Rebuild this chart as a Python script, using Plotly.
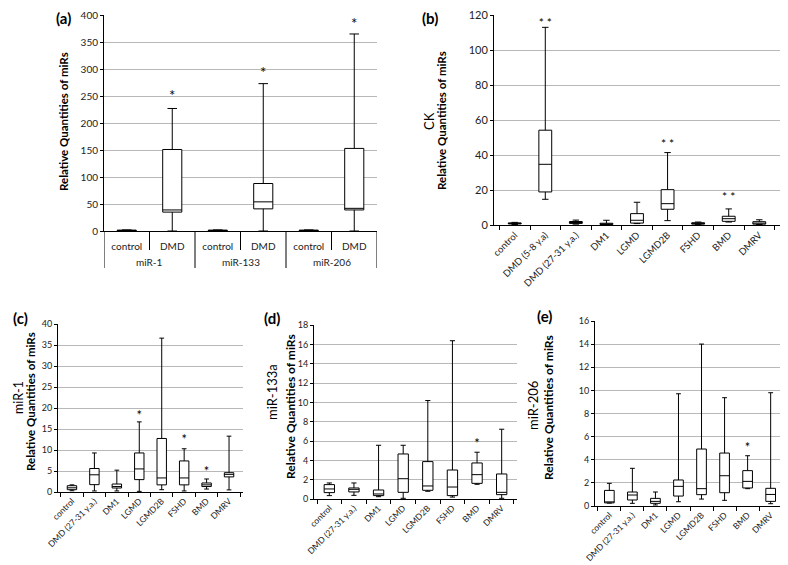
import plotly.graph_objects as go

# page is rendered with an 8px body margin; coordinates below are page pixels
OX, OY = 8, 8
W, H = 780, 557
FONT = "Lato"

# ---------------- data ----------------
# (a)
a_pos = [0, 1, 2, 3, 4, 5]
a_cats = ["control", "DMD", "control", "DMD", "control", "DMD"]
a_groups = ["miR-1", "miR-133", "miR-206"]
a_group_pos = [0.5, 2.5, 4.5]
a_lo = [0.3, 0, 0.3, 0, 0.3, 0]
a_q1 = [0.6, 35, 0.6, 41, 0.6, 39]
a_med = [1.0, 39, 1.0, 54, 1.0, 42]
a_q3 = [1.6, 151, 1.6, 88, 1.6, 153]
a_hi = [2.0, 227, 2.0, 273, 2.0, 365]
a_star_pos = [1, 3, 5]
a_star_y = [248, 290, 382]

# (b) CK
b_cats = ["control", "DMD (5-8 y.a)", "DMD (27-31 y.a.)", "DM1", "LGMD",
          "LGMD2B", "FSHD", "BMD", "DMRV"]
b_lo = [0.3, 14.7, 0.5, 0.0, 0.8, 2.5, 0.2, 1.7, 0.3]
b_q1 = [0.6, 18.9, 0.9, 0.3, 1.1, 9.0, 0.5, 2.1, 0.5]
b_med = [0.9, 34.7, 1.4, 0.6, 2.7, 12.2, 0.9, 3.6, 1.0]
b_q3 = [1.2, 54.2, 2.0, 1.0, 6.5, 20.2, 1.3, 5.0, 1.9]
b_hi = [1.5, 113.0, 2.8, 2.7, 13.0, 41.4, 1.7, 9.2, 3.0]
b_star_cats = ["DMD (5-8 y.a)", "LGMD2B", "BMD"]
b_star_y = [115, 45.5, 15.6]

# (c) miR-1
cde_cats = ["control", "DMD (27-31 y.a.)", "DM1", "LGMD", "LGMD2B", "FSHD",
            "BMD", "DMRV"]
c_lo = [0.3, 0.25, 0.25, 0.15, 0.55, 0.25, 0.7, 0.5]
c_q1 = [0.55, 1.75, 0.95, 2.95, 1.7, 1.7, 1.3, 3.6]
c_med = [1.0, 4.1, 1.3, 5.5, 3.35, 3.35, 1.7, 4.2]
c_q3 = [1.5, 5.6, 1.9, 9.3, 12.75, 7.4, 2.15, 4.6]
c_hi = [1.7, 9.3, 5.2, 16.7, 36.65, 10.3, 3.1, 13.3]
c_star_cats = ["LGMD", "FSHD", "BMD"]
c_star_y = [18.0, 12.3, 4.5]

# (d) miR-133a
d_lo = [0.35, 0.38, 0.24, 0.07, 0.8, 0.2, 1.52, 0.07]
d_q1 = [0.66, 0.73, 0.35, 0.69, 0.9, 0.35, 1.62, 0.45]
d_med = [1.04, 1.0, 0.52, 2.1, 1.35, 1.24, 2.52, 0.69]
d_q3 = [1.49, 1.14, 0.93, 4.66, 3.87, 3.0, 3.73, 2.59]
d_hi = [1.66, 1.66, 5.56, 5.56, 10.19, 16.38, 4.84, 7.22]
d_star_cats = ["BMD"]
d_star_y = [5.6]

# (e) miR-206
e_lo = [0.25, 0.23, 0.09, 0.37, 0.6, 0.49, 1.5, 0.2]
e_q1 = [0.27, 0.52, 0.23, 0.86, 0.98, 1.15, 1.56, 0.4]
e_med = [0.3, 0.95, 0.4, 1.7, 1.5, 2.62, 2.13, 1.0]
e_q3 = [1.35, 1.21, 0.66, 2.25, 4.93, 4.58, 3.06, 1.53]
e_hi = [1.96, 3.26, 1.21, 9.71, 14.01, 9.37, 4.35, 9.8]
e_star_cats = ["BMD"]
e_star_y = [4.95]

# ---------------- helpers ----------------
def px(x):
    return (x - OX) / W

def py(y):
    return 1 - (y - OY) / H

def xd(l, r):
    return [px(l), px(r)]

def yd(bottom, top):
    return [py(bottom), py(top)]

def box(x, lo, q1, med, q3, hi, xa, ya):
    return go.Box(x=x, lowerfence=lo, q1=q1, median=med, q3=q3, upperfence=hi,
                  xaxis=xa, yaxis=ya, fillcolor="white",
                  line=dict(color="black", width=1), whiskerwidth=0.5,
                  width=0.42, boxpoints=False, showlegend=False,
                  hoverinfo="y")

def stars(x, y, text, size, xa, ya):
    return go.Scatter(x=x, y=y, mode="text", text=[text] * len(y),
                      textposition="middle center",
                      textfont=dict(family=FONT, size=size, color="black"),
                      xaxis=xa, yaxis=ya, showlegend=False, hoverinfo="skip")

fig = go.Figure()
fig.add_trace(box(a_pos, a_lo, a_q1, a_med, a_q3, a_hi, "x", "y"))
fig.add_trace(stars(a_star_pos, a_star_y, "*", 15, "x", "y"))
fig.add_trace(box(b_cats, b_lo, b_q1, b_med, b_q3, b_hi, "x2", "y2"))
fig.add_trace(stars(b_star_cats, b_star_y, "* *", 12, "x2", "y2"))
fig.add_trace(box(cde_cats, c_lo, c_q1, c_med, c_q3, c_hi, "x3", "y3"))
fig.add_trace(stars(c_star_cats, c_star_y, "*", 13, "x3", "y3"))
fig.add_trace(box(cde_cats, d_lo, d_q1, d_med, d_q3, d_hi, "x4", "y4"))
fig.add_trace(stars(d_star_cats, d_star_y, "*", 13, "x4", "y4"))
fig.add_trace(box(cde_cats, e_lo, e_q1, e_med, e_q3, e_hi, "x5", "y5"))
fig.add_trace(stars(e_star_cats, e_star_y, "*", 13, "x5", "y5"))

def yax(dom, top, dtick, size, anchor):
    return dict(domain=dom, range=[0, top * 1.0004], dtick=dtick, anchor=anchor,
                automargin=False, ticklabeloverflow="allow",
                showline=True, linecolor="black", linewidth=1,
                ticks="outside", ticklen=3, tickcolor="black",
                showgrid=True, gridcolor="#b8b8b8", gridwidth=1,
                zeroline=False, tickfont=dict(family=FONT, size=size, color="#222"),
                fixedrange=True)

def xax(dom, anchor, size):
    return dict(domain=dom, anchor=anchor, type="category", automargin=False,
                ticklabeloverflow="allow",
                showline=True, linecolor="black", linewidth=1,
                ticks="outside", tickson="boundaries", ticklen=4,
                tickcolor="black", tickangle=-45, showgrid=False,
                tickfont=dict(family=FONT, size=size, color="#222"),
                fixedrange=True)

layout = dict(
    width=W, height=H, margin=dict(l=0, r=0, t=0, b=0),
    paper_bgcolor="white", plot_bgcolor="white", showlegend=False,
    font=dict(family=FONT, color="black"),
)
layout["xaxis"] = dict(domain=xd(104, 377), anchor="y", range=[-0.5, 5.5],
                       automargin=False, ticklabeloverflow="allow",
                       tickvals=a_pos, ticktext=a_cats, ticks="",
                       ticklabelstandoff=6,
                       showline=True, linecolor="black", linewidth=1,
                       tickfont=dict(family=FONT, size=10, color="#222"),
                       showgrid=False, zeroline=False, fixedrange=True)
layout["yaxis"] = yax(yd(231, 15), 400, 50, 10, "x")
layout["xaxis2"] = xax(xd(494, 780), "y2", 9.5)
layout["yaxis2"] = yax(yd(225, 15), 120, 20, 11, "x2")
layout["xaxis3"] = xax(xd(58, 243), "y3", 8.5)
layout["yaxis3"] = yax(yd(492, 324), 40, 5, 9, "x3")
layout["xaxis4"] = xax(xd(314, 517), "y4", 8.5)
layout["yaxis4"] = yax(yd(499, 325), 18, 2, 9, "x4")
layout["xaxis5"] = xax(xd(595, 785), "y5", 8.5)
layout["yaxis5"] = yax(yd(506, 321), 16, 2, 9, "x5")
fig.update_layout(**layout)

# table dividers under panel (a)
for xb in [-0.5, 1.5, 3.5, 5.5]:
    fig.add_shape(type="line", xref="x", yref="paper", x0=xb, x1=xb,
                  y0=py(231), y1=py(268),
                  line=dict(color="black", width=1))
for xb in [0.5, 2.5, 4.5]:
    fig.add_shape(type="line", xref="x", yref="paper", x0=xb, x1=xb,
                  y0=py(231), y1=py(250),
                  line=dict(color="black", width=1))
for g, gp in zip(a_groups, a_group_pos):
    fig.add_annotation(text=g, x=gp, xref="x", y=py(262), yref="paper",
                       xanchor="center", yanchor="middle", showarrow=False,
                       font=dict(family=FONT, size=10, color="#222"))

def ann(text, x, y, size, bold=False, angle=0):
    fig.add_annotation(text=("<b>%s</b>" % text) if bold else text,
                       x=px(x), y=py(y), xref="paper", yref="paper",
                       xanchor="center", yanchor="middle", showarrow=False,
                       textangle=angle,
                       font=dict(family=FONT, size=size, color="black"))

# panel letters
ann("(a)", 64, 18, 15, bold=True)
ann("(b)", 430, 18, 15, bold=True)
ann("(c)", 20, 318, 15, bold=True)
ann("(d)", 272, 318, 15, bold=True)
ann("(e)", 544, 316, 15, bold=True)

# y titles
ann("Relative Quantities of miRs", 63, 122, 11.5, bold=True, angle=-90)
ann("CK", 429, 121, 13, angle=-90)
ann("Relative Quantities of miRs", 441, 121, 11.5, bold=True, angle=-90)
ann("miR-1", 18, 398, 12.5, angle=-90)
ann("Relative Quantities of miRs", 30, 402, 11.5, bold=True, angle=-90)
ann("miR-133a", 272, 392, 13, angle=-90)
ann("Relative Quantities of miRs", 290, 407, 12, bold=True, angle=-90)
ann("miR-206", 533, 406, 13, angle=-90)
ann("Relative Quantities of miRs", 548, 408, 12, bold=True, angle=-90)

fig.write_html("out.html")
